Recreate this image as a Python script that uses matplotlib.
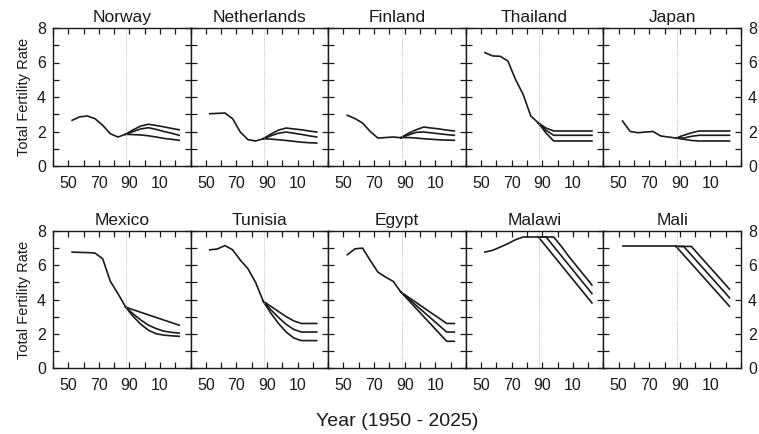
import matplotlib
matplotlib.use("Agg")
import matplotlib.pyplot as plt
from matplotlib.ticker import MultipleLocator

plt.rcParams['font.family'] = ['Liberation Sans', 'DejaVu Sans']

countries = ["Norway", "Netherlands", "Finland", "Thailand", "Japan",
             "Mexico", "Tunisia", "Egypt", "Malawi", "Mali"]

years_hist = [1952.5, 1957.5, 1962.5, 1967.5, 1972.5, 1977.5, 1982.5, 1987.5]
years_proj = [1987.5, 1992.5, 1997.5, 2002.5, 2007.5, 2012.5, 2017.5, 2022.5]
x_ticks = [1950, 1970, 1990, 2010]
x_ticklabels = ["50", "70", "90", "10"]
base_year = 1988

# observed total fertility rate (5-year periods)
hist = {
    "Norway":      [2.65, 2.85, 2.9, 2.74, 2.36, 1.87, 1.68, 1.84],
    "Netherlands": [3.03, 3.05, 3.07, 2.74, 1.97, 1.53, 1.45, 1.58],
    "Finland":     [2.94, 2.75, 2.49, 2.0, 1.62, 1.65, 1.68, 1.64],
    "Thailand":    [6.57, 6.38, 6.36, 6.09, 5.02, 4.15, 2.9, 2.49],
    "Japan":       [2.61, 2.0, 1.93, 1.97, 2.0, 1.74, 1.68, 1.62],
    "Mexico":      [6.77, 6.75, 6.74, 6.71, 6.38, 5.06, 4.34, 3.56],
    "Tunisia":     [6.9, 6.95, 7.15, 6.9, 6.3, 5.8, 5.0, 3.9],
    "Egypt":       [6.61, 6.96, 7.0, 6.28, 5.6, 5.31, 5.06, 4.44],
    "Malawi":      [6.77, 6.87, 7.06, 7.26, 7.49, 7.65, 7.65, 7.65],
    "Mali":        [7.1, 7.1, 7.1, 7.1, 7.1, 7.1, 7.1, 7.1],
}

# projections: low / medium / high variants
low = {
    "Norway":      [1.84, 1.82, 1.8, 1.75, 1.68, 1.6, 1.55, 1.49],
    "Netherlands": [1.58, 1.56, 1.52, 1.48, 1.43, 1.38, 1.35, 1.33],
    "Finland":     [1.64, 1.65, 1.62, 1.58, 1.55, 1.52, 1.5, 1.49],
    "Thailand":    [2.49, 1.91, 1.45, 1.45, 1.45, 1.45, 1.45, 1.45],
    "Japan":       [1.62, 1.55, 1.48, 1.45, 1.45, 1.45, 1.45, 1.45],
    "Mexico":      [3.56, 3.0, 2.55, 2.2, 2.0, 1.92, 1.88, 1.85],
    "Tunisia":     [3.9, 3.2, 2.6, 2.1, 1.75, 1.6, 1.6, 1.6],
    "Egypt":       [4.44, 3.96, 3.48, 3.0, 2.52, 2.04, 1.56, 1.56],
    "Malawi":      [7.65, 7.1, 6.55, 6.0, 5.45, 4.9, 4.35, 3.8],
    "Mali":        [7.1, 6.6, 6.1, 5.6, 5.1, 4.6, 4.1, 3.6],
}
mid = {
    "Norway":      [1.84, 2.0, 2.15, 2.22, 2.12, 2.0, 1.9, 1.78],
    "Netherlands": [1.58, 1.75, 1.9, 1.97, 1.9, 1.83, 1.75, 1.68],
    "Finland":     [1.64, 1.8, 1.95, 1.97, 1.92, 1.87, 1.82, 1.78],
    "Thailand":    [2.49, 2.07, 1.78, 1.78, 1.78, 1.78, 1.78, 1.78],
    "Japan":       [1.62, 1.62, 1.72, 1.78, 1.78, 1.78, 1.78, 1.78],
    "Mexico":      [3.56, 3.15, 2.8, 2.5, 2.3, 2.15, 2.08, 2.04],
    "Tunisia":     [3.9, 3.4, 2.95, 2.55, 2.25, 2.1, 2.1, 2.1],
    "Egypt":       [4.44, 4.05, 3.66, 3.27, 2.88, 2.49, 2.1, 2.1],
    "Malawi":      [7.65, 7.65, 7.1, 6.55, 6.0, 5.45, 4.9, 4.35],
    "Mali":        [7.1, 7.1, 6.6, 6.1, 5.6, 5.1, 4.6, 4.1],
}
high = {
    "Norway":      [1.84, 2.1, 2.32, 2.42, 2.35, 2.27, 2.18, 2.1],
    "Netherlands": [1.58, 1.85, 2.08, 2.2, 2.15, 2.1, 2.03, 1.97],
    "Finland":     [1.64, 1.9, 2.1, 2.26, 2.2, 2.15, 2.08, 2.03],
    "Thailand":    [2.49, 2.2, 2.03, 2.03, 2.03, 2.03, 2.03, 2.03],
    "Japan":       [1.62, 1.78, 1.92, 2.03, 2.03, 2.03, 2.03, 2.03],
    "Mexico":      [3.56, 3.4, 3.25, 3.1, 2.95, 2.8, 2.65, 2.5],
    "Tunisia":     [3.9, 3.6, 3.3, 3.0, 2.75, 2.6, 2.6, 2.6],
    "Egypt":       [4.44, 4.13, 3.83, 3.52, 3.21, 2.91, 2.6, 2.6],
    "Malawi":      [7.65, 7.65, 7.65, 7.1, 6.5, 5.95, 5.4, 4.85],
    "Mali":        [7.1, 7.1, 7.1, 6.6, 6.1, 5.6, 5.1, 4.6],
}

fig = plt.figure(figsize=(7.59, 4.34), dpi=100)

left = 53 / 759
width = (741 - 53) / 759 / 5
rows = [(1 - 166 / 434, (166 - 28) / 434), (1 - 368 / 434, (368 - 231) / 434)]

for i, name in enumerate(countries):
    r, c = divmod(i, 5)
    bottom, height = rows[r]
    ax = fig.add_axes([left + c * width, bottom, width, height])

    ax.plot(years_hist, hist[name], color="#1a1a1a", lw=1.2)
    for proj in (low, mid, high):
        ax.plot(years_proj, proj[name], color="#1a1a1a", lw=1.2)
    ax.axvline(base_year, color="#aaaaaa", lw=0.6, ls=(0, (1, 1.5)))

    ax.set_xlim(1940, 2030)
    ax.set_ylim(0, 8)
    ax.set_xticks(x_ticks)
    ax.set_xticklabels(x_ticklabels)
    ax.xaxis.set_minor_locator(MultipleLocator(10))
    ax.set_yticks([0, 2, 4, 6, 8])
    ax.yaxis.set_minor_locator(MultipleLocator(1))
    ax.tick_params(which="both", direction="in", top=True, right=True,
                   length=4, width=0.9, labelsize=11.5, colors="#1a1a1a")
    ax.tick_params(axis="x", pad=7)
    ax.tick_params(axis="y", pad=5)
    for sp in ax.spines.values():
        sp.set_linewidth(1.0)
        sp.set_color("#1a1a1a")

    if c == 0:
        ax.set_ylabel("Total Fertility Rate", fontsize=10.5, color="#1a1a1a")
    elif c == 4:
        ax.tick_params(axis="y", labelleft=False, labelright=True)
    else:
        ax.tick_params(axis="y", labelleft=False)

    ax.set_title(name, fontsize=12.5, pad=4, color="#1a1a1a")

fig.text((53 + 741) / 2 / 759, 1 - 422 / 434, "Year (1950 - 2025)",
         ha="center", va="center", fontsize=14, color="#1a1a1a")

fig.savefig("out.png", dpi=100)
